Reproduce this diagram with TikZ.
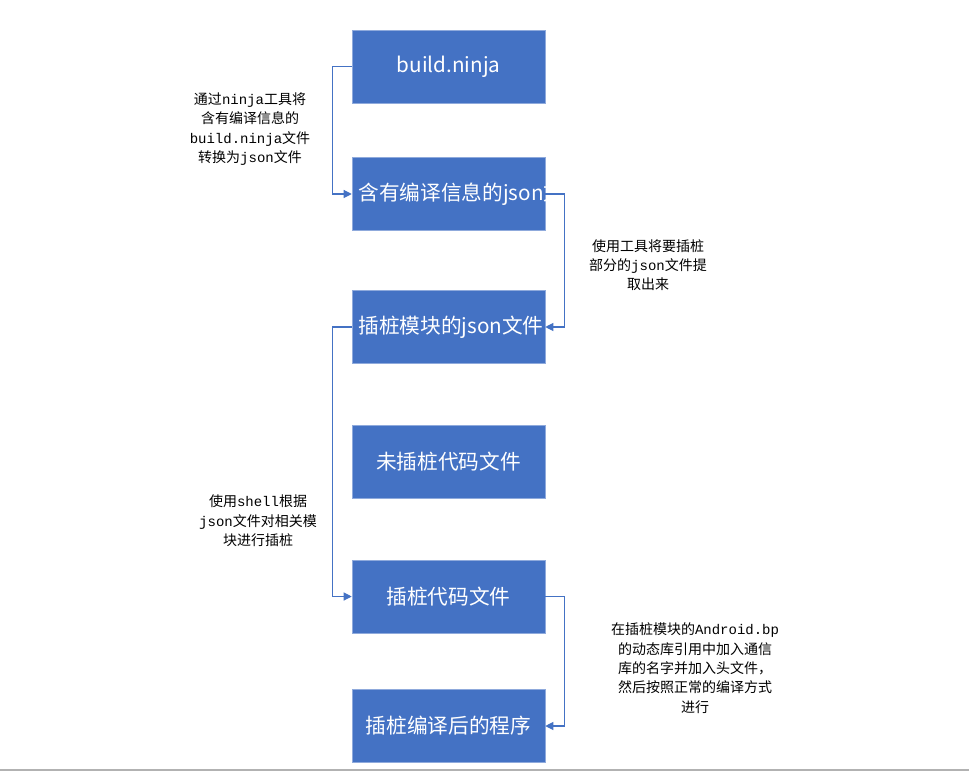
\documentclass[tikz,border=0pt]{standalone}
\usepackage{fontspec}
\setmainfont{Noto Sans CJK SC}
\newfontfamily\mn{Liberation Mono}
\usetikzlibrary{arrows.meta}
\definecolor{boxc}{HTML}{4472C4}
\definecolor{boxb}{HTML}{8FAADC}
\begin{document}
\begin{tikzpicture}[x=0.75pt,y=-0.75pt,
  bx/.style={draw=boxb,fill=boxc,text=white,minimum width=193*0.75pt,minimum height=73*0.75pt,inner sep=2pt,text width=180*0.75pt,align=center,font=\fontsize{15.5}{19}\selectfont},
  lb/.style={align=center,font=\fontsize{10.5}{14.5}\selectfont},
  cn/.style={draw=boxc,line width=0.8pt,-{Triangle[length=6pt,width=6pt]}}]
\useasboundingbox (0,0) rectangle (969,773);
\draw[gray!60,line width=1pt] (0,770) -- (969,770);
\node[bx] (a) at (448.5,66.5) {build.ninja};
\node[bx] (b) at (448.5,194) {含有编译信息的json文件};
\node[bx] (c) at (448.5,327) {插桩模块的json文件};
\node[bx] (d) at (448.5,462) {未插桩代码文件};
\node[bx] (e) at (448.5,596.5) {插桩代码文件};
\node[bx] (f) at (448.5,726) {插桩编译后的程序};
\draw[cn] (a.west) -- ++(-19,0) |- (b.west);
\draw[cn] (b.east) -- ++(19,0) |- (c.east);
\draw[cn] (c.west) -- ++(-19,0) |- (e.west);
\draw[cn] (e.east) -- ++(19,0) |- (f.east);
\node[lb] (l1) at (250,129) {通过{\mn ninja}工具将\\含有编译信息的\\{\mn build.ninja}文件\\转换为{\mn json}文件};
\node[lb] (l2) at (648,265) {使用工具将要插桩\\部分的{\mn json}文件提\\取出来};
\node[lb] (l3) at (258,521) {使用{\mn shell}根据\\{\mn json}文件对相关模\\块进行插桩};
\node[lb] (l4) at (695,668) {在插桩模块的{\mn Android.bp}\\的动态库引用中加入通信\\库的名字并加入头文件，\\然后按照正常的编译方式\\进行};
\end{tikzpicture}
\end{document}
